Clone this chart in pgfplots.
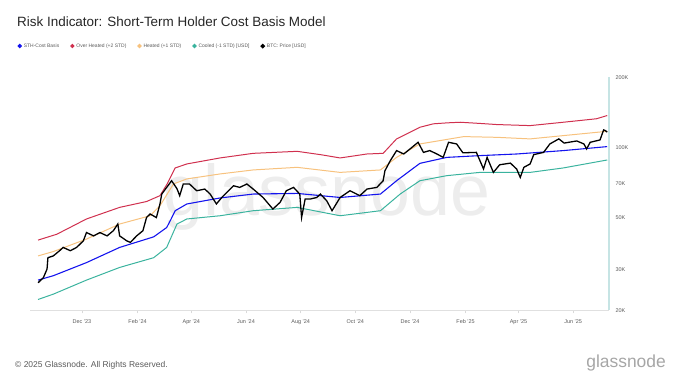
\documentclass[border=0pt]{standalone}
\usepackage{pgfplots}
\pgfplotsset{compat=1.18}
\usepackage{pgfplotstable}
\usepackage{fontspec}
\setmainfont{Liberation Sans}
\definecolor{sthblue}{HTML}{1414EE}
\definecolor{ohred}{HTML}{D0304E}
\definecolor{heatorange}{HTML}{F7C27E}
\definecolor{coolteal}{HTML}{3AB39E}
\definecolor{axisteal}{HTML}{C6E4E4}
\definecolor{txtgray}{HTML}{5A5A5A}

\pgfplotstableread{
day value
-49 27000
-32 28200
5 32100
42 37300
80 41400
94.5 45400
99 49000
104 53600
117 57300
154 60800
191 63200
240 63600
288 61100
333 63200
351 72100
377 85600
407 90800
444 92400
485 93900
537 97100
586 101000
}\sthcb

\pgfplotstableread{
day value
-49 40100
-28 42500
5 49400
42 55400
72 58700
87 62200
95 69800
104 81800
117 85100
154 90300
191 94500
240 96400
266 93300
288 90300
318 93900
336 94500
351 109000
366 116400
377 122300
392 126500
407 127700
422 128500
444 127000
463 125600
500 124300
537 128500
574 133000
586 137300
}\overheated

\pgfplotstableread{
day value
-49 34300
-32 35800
5 40500
42 47000
76 51000
87 56300
102 69800
117 73400
154 77100
191 80200
240 82300
288 78300
333 80200
351 90800
377 103700
426 111500
463 110700
500 109000
537 112600
586 117500
}\heated

\pgfplotstableread{
day value
-49 22300
-32 23500
5 27000
42 30600
80 33700
94.5 37300
106 47000
117 49400
154 51000
191 53600
240 55400
288 51000
333 53600
355 63200
377 72100
407 75800
444 78300
500 78300
537 81800
586 88500
}\cooled

\pgfplotstableread{
day value
-49 26300
-43 27700
-39 30100
-38 33700
-32 34300
-25 36100
-21 37300
-13 36100
-6 37300
1.5 39800
5 43200
13 41800
20 43200
28 41800
35 44000
40 47000
42 41800
50 39800
54 39200
61 41800
68 44000
72 50100
76 51900
83 50100
87 57300
89 63200
94.5 67500
100 72100
106 66600
109 62200
113 69800
120 69800
128 65300
137 66400
143 63200
150 57300
156 61100
169 68600
176 67500
184 69800
191 66400
202 61100
213 54500
221 58200
228 65300
236 67500
243 63200
245 50100
249 60200
255 60200
262 61100
266 63200
273 59200
279 53600
288 61100
299 65300
310 62200
318 66400
329 67500
336 72100
338 79600
344 87900
351 97100
359 93900
366 98700
375 105400
381 95400
388 97100
396 93900
403 90800
409 105400
418 103700
425 95000
440 95400
448 81000
452 90800
459 78300
466 84400
478 85800
485 80900
489 74500
493 82300
500 85100
504 93300
515 95400
522 103700
532 109000
538 104600
552 106800
560 103700
563 98700
567 105400
578 107900
582 119100
584 118300
586 116400
}\btc

\begin{document}
\begin{tikzpicture}
\path[use as bounding box] (0bp,0bp) rectangle (680bp,383bp);
\node[anchor=base west, inner sep=0, font=\fontsize{13.5}{16}\selectfont, text=black!85] at (17bp,356bp) {Risk Indicator: Short-Term Holder Cost Basis Model};
\node[anchor=base west, inner sep=0, font=\fontsize{72}{74}\selectfont, text=black!7] at (163bp,167bp) {glassnode};
\node[anchor=base west, inner sep=0, font=\fontsize{8.5}{10}\selectfont, text=txtgray] at (15bp,16bp) {\textcopyright{} 2025 Glassnode. All Rights Reserved.};
\node[anchor=base east, inner sep=0, font=\fontsize{17.5}{19}\selectfont, text=black!35] at (666bp,16bp) {glassnode};
\begin{axis}[
  at={(30bp,72.5bp)}, anchor=south west,
  width=579bp, height=233bp, scale only axis,
  xmin=-58, xmax=588, ymin=20000, ymax=200000, ymode=log,
  axis x line*=bottom, axis y line*=right,
  axis line style={-},
  x axis line style={draw=black!12, line width=0.6pt},
  y axis line style={draw=axisteal, line width=1.2pt},
  xtick={0,62,122,183,244,305,366,428,487,548},
  xticklabels={Dec '23,Feb '24,Apr '24,Jun '24,Aug '24,Oct '24,Dec '24,Feb '25,Apr '25,Jun '25},
  xticklabel style={font=\fontsize{5.5}{6}\selectfont, text=txtgray, yshift=-3bp},
  xtick style={draw=black!15, line width=0.4pt},
  major tick length=3bp, tick align=outside,
  ytick={20000,30000,50000,70000,100000,200000},
  yticklabels={20K,30K,50K,70K,100K,200K},
  yticklabel style={font=\fontsize{5.5}{6}\selectfont, text=txtgray, anchor=west},
  ytick style={draw=none}, minor tick style={draw=none},
  /pgf/number format/assume math mode=true,
  legend columns=5,
  legend style={at={(-0.027,1.135)}, anchor=west, draw=none, fill=none,
    font=\fontsize{5}{6}\selectfont, text=txtgray,
    /tikz/every even column/.append style={column sep=9bp}},
  legend image code/.code={\fill (0.5bp,0bp) circle (1.6bp);},
]
\addplot[color=sthblue, line width=1.1pt] table {\sthcb};
\addlegendentry{STH-Cost Basis}
\addplot[color=ohred, line width=1pt] table {\overheated};
\addlegendentry{Over Heated (+2 STD)}
\addplot[color=heatorange, line width=1pt] table {\heated};
\addlegendentry{Heated (+1 STD)}
\addplot[color=coolteal, line width=1pt] table {\cooled};
\addlegendentry{Cooled (-1 STD) [USD]}
\addplot[color=black, line width=1.3pt] table {\btc};
\addlegendentry{BTC: Price [USD]}
\end{axis}
\end{tikzpicture}
\end{document}
